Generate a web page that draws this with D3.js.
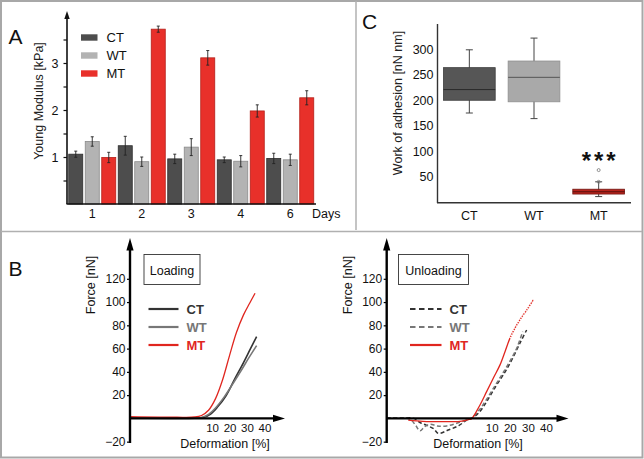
<!DOCTYPE html>
<html><head><meta charset="utf-8">
<script src="https://cdn.jsdelivr.net/npm/d3@7/dist/d3.min.js"></script>
<style>body{margin:0;background:#fff}svg{display:block}text{font-family:"Liberation Sans",Arial,Helvetica,sans-serif}</style>
</head><body>
<svg id="c" width="644" height="459"></svg>
<script>
// ---------- Data ----------
const days = ["1","2","3","4","6"];
const groups = ["CT","WT","MT"];
const modulusCT = [1.06,1.24,0.96,0.94,0.97];
const modulusWT = [1.33,0.90,1.21,0.91,0.94];
const modulusMT = [0.99,3.72,3.11,1.98,2.26];
const errCT = [0.065,0.20,0.10,0.06,0.11];
const errWT = [0.10,0.10,0.18,0.12,0.12];
const errMT = [0.11,0.065,0.155,0.13,0.15];
const modTicks = [1,2,3];

const adhMin = [175,164,11];
const adhQ1  = [200,197,16];
const adhMed = [221,245,20.5];
const adhQ3  = [264,277,25.5];
const adhMax = [299,322,40];
const adhOutliers = [[],[],[40,63]];
const adhTicks = [50,100,150,200,250,300];

const forceTicks = [-20,20,40,60,80,100,120];
const defTicks = [10,20,30,40];
const loadCT = [[-36.9,0.6],[0,0.3],[5,0.8],[9,3.5],[13,9.5],[18,19.5],[23,34],[28,48],[32,60],[35.5,70.3]];
const loadWT = [[-36.9,0.4],[0,0.2],[4,0.8],[8,3.5],[12,9],[17,18.5],[22,30],[27,42],[31,52],[35.5,62.6]];
const loadMT = [[-36.9,1.5],[-10,1.0],[0,1.2],[4,2.5],[8,7],[12,17],[16,33],[20,54],[24,74],[28,89],[31.5,99],[34.6,107.6]];
const unloadCT = [[-48,0.5],[-40,0.3],[-33,0],[-29.6,-3.5],[-26,-6],[-22,-9],[-19.5,-12.9],[-14,-10],[-8,-6],[-3.8,-1.5],[-1,0],[3,5],[7.2,14.4],[12,27],[16.4,37.4],[21,50],[25.6,64.7],[29.3,76]];
const unloadWT = [[-48,0.3],[-38,0.2],[-35.1,-0.5],[-32,-6],[-29.6,-10.7],[-27,-7],[-24.1,-5],[-20,-6.5],[-14.9,-6.5],[-9,-4],[-4,-1.5],[-1.5,0],[3,7],[7,16],[12,28.5],[16,38.5],[20,49],[24,61],[27.1,74.6]];
const unloadMT = [[-36.1,-1.5],[-28,-2.5],[-18,-2.8],[-7.5,-2.5],[-3,-1],[-1,0],[3,10],[7.2,23],[11,35],[14.6,46],[17.5,58],[20.1,69],[23,78],[25.6,84.7],[29.5,93.5],[33,101.9]];

// ---------- Drawing ----------
const svg = d3.select("#c");
const font = '"Liberation Sans",Arial,Helvetica,sans-serif';
const colCT = "#4d4d4d", colWT = "#b3b3b3", colMT = "#e8302a";

// frame
svg.append("rect").attr("x",1).attr("y",1).attr("width",641.5).attr("height",456.5)
  .attr("fill","none").attr("stroke","#a8a8a8").attr("stroke-width",2);
svg.append("line").attr("x1",356).attr("x2",356).attr("y1",1).attr("y2",230).attr("stroke","#b0b0b0").attr("stroke-width",1.5);
svg.append("line").attr("x1",1).attr("x2",642).attr("y1",231.5).attr("y2",231.5).attr("stroke","#b0b0b0").attr("stroke-width",1.5);

function label(t,x,y){svg.append("text").attr("x",x).attr("y",y).attr("font-size",21).attr("fill","#111").text(t);}
label("A",8.5,43.5); label("C",362,28.5); label("B",8.5,275.5);

// ---------- Panel A ----------
{
  const gA = svg.append("g");
  const x0 = d3.scaleBand().domain(days).range([67.5,315]).padding(0);
  const x1 = d3.scaleBand().domain(groups).range([0,x0.bandwidth()]).paddingInner(0.15).paddingOuter(0.075);
  const y = d3.scaleLinear().domain([0,4]).range([204,16]);
  const vals = {CT:modulusCT,WT:modulusWT,MT:modulusMT};
  const errs = {CT:errCT,WT:errWT,MT:errMT};
  const fills = {CT:colCT,WT:colWT,MT:colMT};
  const strokes = {CT:"#2e2e2e",WT:"#8a8a8a",MT:"#b52019"};
  days.forEach((d,i)=>{
    groups.forEach(gname=>{
      const v = vals[gname][i], e = errs[gname][i];
      const bx = x0(d)+x1(gname);
      gA.append("rect").attr("x",bx).attr("y",y(v)).attr("width",x1.bandwidth()).attr("height",y(0)-y(v))
        .attr("fill",fills[gname]).attr("stroke",strokes[gname]).attr("stroke-width",0.8);
      const cx = bx+x1.bandwidth()/2;
      gA.append("line").attr("x1",cx).attr("x2",cx).attr("y1",y(v-e)).attr("y2",y(v+e)).attr("stroke","#222").attr("stroke-width",0.9);
      [v-e,v+e].forEach(t=>gA.append("line").attr("x1",cx-1.5).attr("x2",cx+1.5).attr("y1",y(t)).attr("y2",y(t)).attr("stroke","#222").attr("stroke-width",0.9));
    });
  });
  // y axis
  gA.append("line").attr("x1",67).attr("x2",67).attr("y1",204).attr("y2",15).attr("stroke","#111").attr("stroke-width",1.6);
  gA.append("path").attr("d","M67,11 L64.3,19 L69.7,19 Z").attr("fill","#111");
  const yAxis = d3.axisLeft(y).tickValues([0.5,1,1.5,2,2.5,3,3.5]).tickSize(3.5).tickFormat(v=>modTicks.includes(v)?d3.format("d")(v):"");
  const ya = gA.append("g").attr("transform","translate(67,0)").call(yAxis);
  ya.select(".domain").remove();
  ya.selectAll("line").attr("stroke","#111").attr("stroke-width",1.2);
  ya.selectAll("text").attr("font-size",12.5).attr("font-family",font).attr("fill","#111").attr("dx",-2);
  // x axis
  gA.append("line").attr("x1",66.5).attr("x2",316).attr("y1",204).attr("y2",204).attr("stroke","#111").attr("stroke-width",1.6);
  const xa = gA.append("g").attr("transform","translate(0,204)").call(d3.axisBottom(x0).tickSize(0).tickPadding(5));
  xa.select(".domain").remove();
  xa.selectAll("text").attr("font-size",12.5).attr("font-family",font).attr("fill","#111");
  gA.append("text").attr("x",312).attr("y",217.5).attr("font-size",12.5).attr("fill","#111").text("Days");
  gA.append("text").attr("transform","translate(43,101) rotate(-90)").attr("text-anchor","middle").attr("font-size",12.5).attr("fill","#222").text("Young Modulus [kPa]");
  // legend
  const legY = d3.scalePoint().domain(groups).range([37.5,73.5]);
  groups.forEach(gname=>{
    gA.append("rect").attr("x",81).attr("y",legY(gname)-3.2).attr("width",16.5).attr("height",6.4).attr("fill",fills[gname]);
    gA.append("text").attr("x",106.5).attr("y",legY(gname)+4.5).attr("font-size",13).attr("fill","#111").text(gname);
  });
}

// ---------- Panel C ----------
{
  const gC = svg.append("g");
  const x = d3.scaleBand().domain(groups).range([437,631]).paddingInner(0.2).paddingOuter(0.1);
  const y = d3.scaleLinear().domain([0,300]).range([202.2,49.3]);
  const fills = ["#565656","#a9a9a9","#b8241d"];
  const strokes = ["#3e3e3e","#8f8f8f","#701410"];
  const meds = ["#2a2a2a","#555","#5a0f0c"];
  groups.forEach((gname,i)=>{
    const bx = x(gname), bw = x.bandwidth(), cx = bx+bw/2;
    gC.append("line").attr("x1",cx).attr("x2",cx).attr("y1",y(adhMax[i])).attr("y2",y(adhMin[i])).attr("stroke","#444").attr("stroke-width",1);
    [adhMax[i],adhMin[i]].forEach(t=>gC.append("line").attr("x1",cx-3.5).attr("x2",cx+3.5).attr("y1",y(t)).attr("y2",y(t)).attr("stroke","#444").attr("stroke-width",1));
    gC.append("rect").attr("x",bx).attr("y",y(adhQ3[i])).attr("width",bw).attr("height",y(adhQ1[i])-y(adhQ3[i]))
      .attr("fill",fills[i]).attr("stroke",strokes[i]).attr("stroke-width",0.8);
    gC.append("line").attr("x1",bx).attr("x2",bx+bw).attr("y1",y(adhMed[i])).attr("y2",y(adhMed[i])).attr("stroke",meds[i]).attr("stroke-width",1);
    adhOutliers[i].forEach(o=>gC.append("circle").attr("cx",cx).attr("cy",y(o)).attr("r",1.5).attr("fill","none").attr("stroke","#777").attr("stroke-width",0.8));
  });
  gC.append("text").attr("x",x("MT")+x.bandwidth()/2+1.5).attr("y",169).attr("text-anchor","middle").attr("font-size",24).attr("font-weight","bold").attr("fill","#111").attr("letter-spacing",3).text("***");
  gC.append("line").attr("x1",437.5).attr("x2",437.5).attr("y1",24).attr("y2",203).attr("stroke","#333").attr("stroke-width",1.4);
  gC.append("line").attr("x1",437).attr("x2",631).attr("y1",202.7).attr("y2",202.7).attr("stroke","#333").attr("stroke-width",1.4);
  const ya = gC.append("g").attr("transform","translate(437.5,0)").call(d3.axisLeft(y).tickValues(adhTicks).tickSize(0).tickPadding(4));
  ya.select(".domain").remove();
  ya.selectAll("text").attr("font-size",12.5).attr("font-family",font).attr("fill","#111");
  const xa = gC.append("g").attr("transform","translate(0,202.7)").call(d3.axisBottom(x).tickSize(0).tickPadding(8));
  xa.select(".domain").remove();
  xa.selectAll("text").attr("font-size",12.5).attr("font-family",font).attr("fill","#111");
  gC.append("text").attr("transform","translate(402,103) rotate(-90)").attr("text-anchor","middle").attr("font-size",12.5).attr("fill","#222").text("Work of adhesion [nN nm]");
}

// ---------- Panel B ----------
function forcePanel(opt){
  const g = svg.append("g");
  const y = d3.scaleLinear().domain([0,120]).range([418.4,278.8]);
  const x = d3.scaleLinear().domain(opt.xdom).range(opt.xrng);
  const ax = opt.axisX, yx = y(0);
  // curves
  const line = d3.line().x(d=>x(d[0])).y(d=>y(d[1])).curve(d3.curveCatmullRom.alpha(0.5));
  opt.series.forEach(s=>{
    g.append("path").attr("d",line(s.data)).attr("fill","none").attr("stroke",s.color).attr("stroke-width",s.w)
      .attr("stroke-dasharray",s.dash||null);
    if(s.dotTop){
      const top = s.data.filter(d=>d[1]>=s.dotTop);
      g.append("path").attr("d",line(top)).attr("fill","none").attr("stroke","#fff").attr("stroke-width",s.w+0.6).attr("stroke-dasharray","1.3,1.3");
    }
  });
  // axes
  g.append("line").attr("x1",ax).attr("x2",ax).attr("y1",443).attr("y2",248).attr("stroke","#000").attr("stroke-width",2.4);
  g.append("path").attr("d",`M${ax},238 L${ax-3.6},250.5 L${ax+3.6},250.5 Z`).attr("fill","#000");
  g.append("line").attr("x1",ax).attr("x2",opt.arrowX-10).attr("y1",yx).attr("y2",yx).attr("stroke","#000").attr("stroke-width",2.4);
  g.append("path").attr("d",`M${opt.arrowX},${yx} L${opt.arrowX-12},${yx-3.6} L${opt.arrowX-12},${yx+3.6} Z`).attr("fill","#000");
  const ya = g.append("g").attr("transform",`translate(${ax},0)`).call(d3.axisLeft(y).tickValues(forceTicks).tickSize(3).tickPadding(1.5));
  ya.select(".domain").remove();
  ya.selectAll("line").attr("stroke","#000").attr("stroke-width",1.2);
  ya.selectAll("text").attr("font-size",12).attr("font-family",font).attr("fill","#111");
  const xa = g.append("g").attr("transform",`translate(0,${yx})`).call(d3.axisBottom(x).tickValues(defTicks).tickSize(0).tickPadding(5));
  xa.select(".domain").remove();
  xa.selectAll("text").attr("font-size",11.5).attr("font-family",font).attr("fill","#111");
  g.append("text").attr("x",opt.defX).attr("y",448).attr("text-anchor","middle").attr("font-size",12.5).attr("fill","#111").text("Deformation [%]");
  g.append("text").attr("transform",`translate(${ax-35},285) rotate(-90)`).attr("text-anchor","middle").attr("font-size",12.5).attr("fill","#111").text("Force [nN]");
  // box title
  g.append("rect").attr("x",opt.box[0]).attr("y",254.5).attr("width",opt.box[1]).attr("height",30).attr("fill","#fff").attr("stroke","#333").attr("stroke-width",0.9);
  g.append("text").attr("x",opt.box[0]+opt.box[1]/2).attr("y",274.5).attr("text-anchor","middle").attr("font-size",12.5).attr("fill","#111").text(opt.title);
  // legend
  const ly = d3.scalePoint().domain(groups).range([309,345]);
  opt.series.forEach(s=>{
    g.append("line").attr("x1",opt.leg[0]).attr("x2",opt.leg[1]).attr("y1",ly(s.name)).attr("y2",ly(s.name)).attr("stroke",s.color).attr("stroke-width",2.2).attr("stroke-dasharray",s.legDash||null);
    g.append("text").attr("x",opt.leg[1]+8).attr("y",ly(s.name)+4.8).attr("font-size",13).attr("font-weight","bold").attr("fill",s.color).text(s.name);
  });
}
forcePanel({
  axisX:130, xdom:[-36.9,40], xrng:[130,264.5], arrowX:285, defX:225, title:"Loading", box:[144,56], leg:[148.5,178.5],
  series:[
    {name:"CT",data:loadCT,color:"#333",w:1.6},
    {name:"WT",data:loadWT,color:"#777",w:1.6},
    {name:"MT",data:loadMT,color:"#e0261f",w:1.3}
  ]
});
forcePanel({
  axisX:386.7, xdom:[-48,40], xrng:[386.7,546], arrowX:568.5, defX:478, title:"Unloading", box:[398.5,70], leg:[410,441.5],
  series:[
    {name:"CT",data:unloadCT,color:"#333",w:1.5,dash:"4,2.5",legDash:"5.5,3.5"},
    {name:"WT",data:unloadWT,color:"#777",w:1.5,dash:"4,2.5",legDash:"5.5,3.5"},
    {name:"MT",data:unloadMT,color:"#e0261f",w:1.3,dotTop:60}
  ]
});
</script>
</body></html>
